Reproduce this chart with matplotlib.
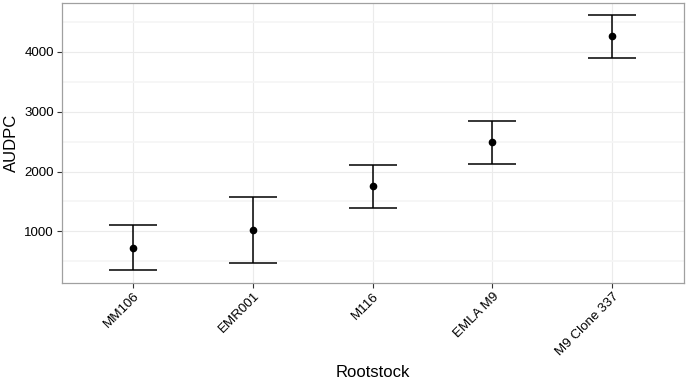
import matplotlib
matplotlib.use("Agg")
from matplotlib import pyplot as plt
from matplotlib.ticker import MultipleLocator

plt.rcParams['font.family'] = ['Liberation Sans', 'DejaVu Sans']

# rootstock means and error bar limits
rootstocks = ['MM106', 'EMR001', 'M116', 'EMLA M9', 'M9 Clone 337']
audpc_mean = [730, 1028, 1752, 2490, 4258]
audpc_low = [362, 473, 1395, 2130, 3893]
audpc_high = [1100, 1578, 2112, 2850, 4623]

x = list(range(1, len(rootstocks) + 1))
err_lo = [m - lo for m, lo in zip(audpc_mean, audpc_low)]
err_hi = [hi - m for m, hi in zip(audpc_mean, audpc_high)]

fig = plt.figure(figsize=(6.86, 3.81), dpi=100)
ax = fig.add_axes([0.0897, 0.2585, 0.9074, 0.7336])

ax.errorbar(x, audpc_mean, yerr=[err_lo, err_hi], fmt='o', color='black',
            ms=4.5, elinewidth=1.1, capsize=17, capthick=1.1, zorder=3)

ax.set_xlim(0.4, 5.6)
ax.set_ylim(145, 4817)
ax.set_xticks(x)
ax.set_xticklabels(rootstocks, rotation=45, ha='right', va='top',
                   rotation_mode='anchor')
ax.yaxis.set_major_locator(MultipleLocator(1000))
ax.yaxis.set_minor_locator(MultipleLocator(500))
ax.set_yticks([1000, 2000, 3000, 4000])

ax.grid(which='major', color='#ebebeb', lw=0.8, zorder=0)
ax.grid(which='minor', axis='y', color='#f5f5f5', lw=1.2, zorder=0)
ax.set_axisbelow(True)
ax.tick_params(which='minor', length=0)
ax.tick_params(which='major', length=3.5, color='#333333', width=0.8,
               labelsize=9.6, labelcolor='black', pad=2)
for s in ax.spines.values():
    s.set_color('#a0a0a0')
    s.set_linewidth(0.9)

ax.set_xlabel('Rootstock', fontsize=12, labelpad=5)
ax.set_ylabel('AUDPC', fontsize=12, labelpad=4)

fig.savefig('out.png', dpi=100)
